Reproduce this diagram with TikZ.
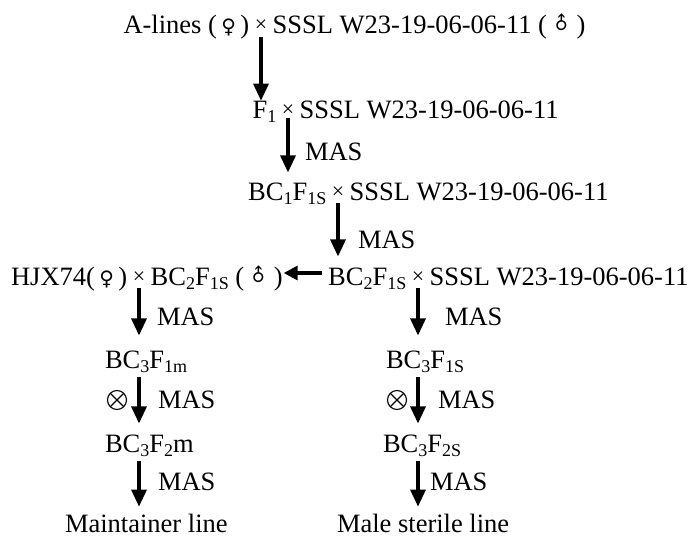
\documentclass[tikz,border=0pt]{standalone}
\usepackage{fontspec}
\setmainfont{Liberation Serif}
\newfontfamily\symfont{DejaVu Sans}
\usetikzlibrary{arrows.meta}
% lowered, smaller index text (BC1F1S and friends)
\newcommand{\lo}[1]{\raisebox{-0.17em}{\fontsize{18}{18}\selectfont #1}}
\newcommand{\xx}{\raisebox{0.05em}{\fontsize{22}{22}\selectfont ×}}
% sex signs
\newcommand{\fem}{{\symfont\fontsize{20}{20}\selectfont ♀}}
\newcommand{\mal}{\raisebox{-0.02em}{\rotatebox{45}{\symfont\fontsize{18}{18}\selectfont ♂}}}

\begin{document}
\begin{tikzpicture}[x=1pt,y=-1pt,
  every node/.style={inner sep=0pt, outer sep=0pt, font=\fontsize{26.5}{30}\selectfont},
  cross/.style={inner xsep=5.5pt, anchor=base},
  lft/.style={anchor=base east},
  rgt/.style={anchor=base west},
  lab/.style={anchor=base west},
  selfmark/.style={draw, circle, minimum size=19pt, line width=1.1pt,
    path picture={\draw[line width=1.1pt]
      (path picture bounding box.north west) -- (path picture bounding box.south east)
      (path picture bounding box.north east) -- (path picture bounding box.south west);}},
  arr/.style={line width=3.2pt, -{Triangle[width=15pt,length=17pt]}},
  arrs/.style={line width=3.2pt, -{Triangle[width=14pt,length=14pt]}}]
\useasboundingbox (0,0) rectangle (693,538);

% first cross
\node[cross] (x1) at (261,33) {\xx};
\node[lft] (a1) at (x1.base west) {A-lines (\,\fem\,)};
\node[rgt] (b1) at (x1.base east) {SSSL W23-19-06-06-11 (\,\mal\,)};

% F1
\node[cross] (x2) at (288,118) {\xx};
\node[lft] (a2) at (x2.base west) {F\lo{1}};
\node[rgt] (b2) at (x2.base east) {SSSL W23-19-06-06-11};

% BC1F1S
\node[cross] (x3) at (338,200) {\xx};
\node[lft] (a3) at (x3.base west) {BC\lo{1}F\lo{1S}};
\node[rgt] (b3) at (x3.base east) {SSSL W23-19-06-06-11};

% BC2F1S backcross (right) and cross with HJX74 (left)
\node[cross] (x4r) at (418,285) {\xx};
\node[lft] (a4r) at (x4r.base west) {BC\lo{2}F\lo{1S}};
\node[rgt] (b4r) at (x4r.base east) {SSSL W23-19-06-06-11};
\node[cross] (x4l) at (139,285) {\xx};
\node[lft] (a4l) at (x4l.base west) {HJX74(\,\fem\,)};
\node[rgt] (b4l) at (x4l.base east) {BC\lo{2}F\lo{1S} (\,\mal\,)};

% maintainer branch
\node[rgt] (l1) at (105,368) {BC\lo{3}F\lo{1m}};
\node[rgt] (l2) at (105,452) {BC\lo{3}F\lo{2}m};
\node[rgt] (l3) at (65,532) {Maintainer line};

% sterile branch
\node[rgt] (r1) at (386,368) {BC\lo{3}F\lo{1S}};
\node[rgt] (r2) at (383,452) {BC\lo{3}F\lo{2S}};
\node[rgt] (r3) at (337,532) {Male sterile line};

% MAS labels and selfing marks
\node[lab] (m1) at (305,160) {MAS};
\node[lab] (m2) at (358,248) {MAS};
\node[lab] (m3) at (157,325) {MAS};
\node[lab] (m4) at (445,325) {MAS};
\node[lab] (m5) at (158,408) {MAS};
\node[lab] (m6) at (438,408) {MAS};
\node[lab] (m7) at (158,490) {MAS};
\node[lab] (m8) at (430,490) {MAS};
\node[selfmark] (s1) at (117,400) {};
\node[selfmark] (s2) at (397,400) {};

% main line arrows
\draw[arr, shorten <=4pt] (x1.base) -- (x1.base |- a2.north);
\draw[arr, shorten >=10pt] (x2.base) -- (x2.base |- a3.north);
\draw[arr, shorten <=3pt, shorten >=11pt] (x3.base) -- (x3.base |- a4r.north);
\draw[arrs, shorten <=6pt, shorten >=1pt] ([yshift=12pt]a4r.base west) -- ([yshift=12pt]b4l.base east);

% branch arrows
\draw[arr, shorten <=3pt, shorten >=15pt] (x4l.base) -- (x4l.base |- l1.north);
\draw[arr, shorten <=4pt, shorten >=11pt] (x4l.base |- l1.south) -- (x4l.base |- l2.north);
\draw[arr, shorten <=4pt, shorten >=7pt] (x4l.base |- l2.south) -- (x4l.base |- l3.north);
\draw[arr, shorten <=3pt, shorten >=15pt] (x4r.base) -- (x4r.base |- r1.north);
\draw[arr, shorten <=4pt, shorten >=11pt] (x4r.base |- r1.south) -- (x4r.base |- r2.north);
\draw[arr, shorten <=4pt, shorten >=7pt] (x4r.base |- r2.south) -- (x4r.base |- r3.north);
\end{tikzpicture}
\end{document}
